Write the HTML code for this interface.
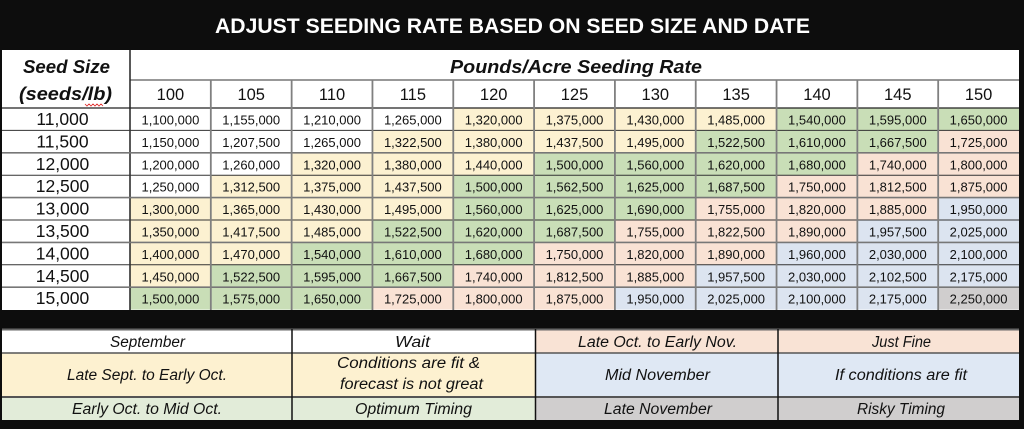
<!DOCTYPE html>
<html><head><meta charset="utf-8"><style>
html,body{margin:0;padding:0;background:#0d0d0d;}
svg{display:block;}
text{font-family:"Liberation Sans",Arial,sans-serif;fill:#111;}
.t{font-weight:bold;font-size:21px;fill:#fff;}
.h{font-weight:bold;font-style:italic;font-size:18px;}
.n{font-size:16.5px;}
.s{font-size:17.5px;}
.d{font-size:13px;}
.l{font-style:italic;font-size:15.5px;}
</style></head><body>
<svg width="1024" height="429" viewBox="0 0 1024 429" xmlns="http://www.w3.org/2000/svg">
<rect x="0" y="0" width="1024" height="429" fill="#0d0d0d"/>
<text class="t" x="512.5" y="33" text-anchor="middle" textLength="595" lengthAdjust="spacingAndGlyphs">ADJUST SEEDING RATE BASED ON SEED SIZE AND DATE</text>
<rect x="2" y="50" width="1017" height="260" fill="#fff"/>
<g id="cells"></g>
<text class="h" x="66.5" y="73" text-anchor="middle" textLength="87" lengthAdjust="spacingAndGlyphs">Seed Size</text>
<text class="h" x="65.5" y="100" text-anchor="middle" textLength="93" lengthAdjust="spacingAndGlyphs">(seeds/lb)</text>
<polyline points="85,104 87,106 89,104 91,106 93,104 95,106 97,104 99,106 101,104 103,106" fill="none" stroke="#d22" stroke-width="0.8"/>
<text class="h" x="576" y="73" text-anchor="middle" textLength="252" lengthAdjust="spacingAndGlyphs">Pounds/Acre Seeding Rate</text>
<line x1="130" y1="80" x2="1019" y2="80" stroke="#777" stroke-width="1.5"/>
<line x1="2" y1="108" x2="1019" y2="108" stroke="#222" stroke-width="1.2"/>
<line x1="130" y1="50" x2="130" y2="310" stroke="#222" stroke-width="1.5"/>
<g id="rest"></g>
<rect x="2" y="329" width="1017" height="91" fill="#fff"/>
<rect x="535.5" y="329" width="483.5" height="24" fill="#f9e3d5"/>
<rect x="2" y="353" width="533.5" height="44" fill="#fdf1d0"/>
<rect x="535.5" y="353" width="483.5" height="44" fill="#dfe8f4"/>
<rect x="2" y="397" width="533.5" height="23" fill="#e2ecd9"/>
<rect x="535.5" y="397" width="483.5" height="23" fill="#d0cece"/>
<line x1="2" y1="329.5" x2="1019" y2="329.5" stroke="#666" stroke-width="2"/>
<line x1="2" y1="353" x2="1019" y2="353" stroke="#555" stroke-width="1.5"/>
<line x1="2" y1="397" x2="1019" y2="397" stroke="#555" stroke-width="2"/>
<line x1="292" y1="329" x2="292" y2="420" stroke="#111" stroke-width="1.5"/>
<line x1="535.5" y1="329" x2="535.5" y2="420" stroke="#111" stroke-width="1.5"/>
<line x1="778" y1="329" x2="778" y2="420" stroke="#111" stroke-width="1.5"/>
<text class="l" x="147.5" y="347" text-anchor="middle" textLength="75" lengthAdjust="spacingAndGlyphs">September</text>
<text class="l" x="412.5" y="347" text-anchor="middle" textLength="35" lengthAdjust="spacingAndGlyphs">Wait</text>
<text class="l" x="657.5" y="347" text-anchor="middle" textLength="159" lengthAdjust="spacingAndGlyphs">Late Oct. to Early Nov.</text>
<text class="l" x="901.5" y="347" text-anchor="middle" textLength="59" lengthAdjust="spacingAndGlyphs">Just Fine</text>
<text class="l" x="147" y="380" text-anchor="middle" textLength="160" lengthAdjust="spacingAndGlyphs">Late Sept. to Early Oct.</text>
<text class="l" x="408.5" y="368" text-anchor="middle" textLength="143" lengthAdjust="spacingAndGlyphs">Conditions are fit &amp;</text>
<text class="l" x="411.5" y="389" text-anchor="middle" textLength="143" lengthAdjust="spacingAndGlyphs">forecast is not great</text>
<text class="l" x="657.5" y="380" text-anchor="middle" textLength="105" lengthAdjust="spacingAndGlyphs">Mid November</text>
<text class="l" x="901" y="380" text-anchor="middle" textLength="132" lengthAdjust="spacingAndGlyphs">If conditions are fit</text>
<text class="l" x="147" y="414" text-anchor="middle" textLength="150" lengthAdjust="spacingAndGlyphs">Early Oct. to Mid Oct.</text>
<text class="l" x="413.5" y="414" text-anchor="middle" textLength="117" lengthAdjust="spacingAndGlyphs">Optimum Timing</text>
<text class="l" x="658" y="414" text-anchor="middle" textLength="108" lengthAdjust="spacingAndGlyphs">Late November</text>
<text class="l" x="901" y="414" text-anchor="middle" textLength="88" lengthAdjust="spacingAndGlyphs">Risky Timing</text>
</svg>
<script>
(function(){
var NS="http://www.w3.org/2000/svg";
var rates=[100,105,110,115,120,125,130,135,140,145,150];
var sizes=[11000,11500,12000,12500,13000,13500,14000,14500,15000];
var vals=[
["1,100,000","1,155,000","1,210,000","1,265,000","1,320,000","1,375,000","1,430,000","1,485,000","1,540,000","1,595,000","1,650,000"],
["1,150,000","1,207,500","1,265,000","1,322,500","1,380,000","1,437,500","1,495,000","1,522,500","1,610,000","1,667,500","1,725,000"],
["1,200,000","1,260,000","1,320,000","1,380,000","1,440,000","1,500,000","1,560,000","1,620,000","1,680,000","1,740,000","1,800,000"],
["1,250,000","1,312,500","1,375,000","1,437,500","1,500,000","1,562,500","1,625,000","1,687,500","1,750,000","1,812,500","1,875,000"],
["1,300,000","1,365,000","1,430,000","1,495,000","1,560,000","1,625,000","1,690,000","1,755,000","1,820,000","1,885,000","1,950,000"],
["1,350,000","1,417,500","1,485,000","1,522,500","1,620,000","1,687,500","1,755,000","1,822,500","1,890,000","1,957,500","2,025,000"],
["1,400,000","1,470,000","1,540,000","1,610,000","1,680,000","1,750,000","1,820,000","1,890,000","1,960,000","2,030,000","2,100,000"],
["1,450,000","1,522,500","1,595,000","1,667,500","1,740,000","1,812,500","1,885,000","1,957,500","2,030,000","2,102,500","2,175,000"],
["1,500,000","1,575,000","1,650,000","1,725,000","1,800,000","1,875,000","1,950,000","2,025,000","2,100,000","2,175,000","2,250,000"]];
function col(v){var n=parseInt(v.replace(/,/g,''));
 if(n<1300000)return "#ffffff"; if(n<1500000)return "#fcf1d1"; if(n<1700000)return "#c9deb7";
 if(n<1900000)return "#f9e2d4"; if(n<2250000)return "#dce4f0"; return "#d0cece";}
var x0=130,w=(1019-130)/11,y0=108,h=22.4;
var g=document.getElementById("cells"),r=document.getElementById("rest");
function el(t,a,p,txt){var e=document.createElementNS(NS,t);for(var k in a)e.setAttribute(k,a[k]);if(txt!=null)e.textContent=txt;p.appendChild(e);return e;}
for(var i=0;i<9;i++){for(var j=0;j<11;j++){
 el("rect",{x:x0+j*w,y:y0+i*h,width:w,height:h,fill:col(vals[i][j])},g);}}
for(var j=0;j<11;j++){el("text",{"class":"n",x:x0+(j+0.5)*w,y:100,"text-anchor":"middle"},r,String(rates[j]));}
for(var i=0;i<9;i++){
 var by=y0+i*h+16.5;
 el("text",{"class":"s",x:62.5,y:by+0.5,"text-anchor":"middle"},r,sizes[i].toLocaleString("en-US"));
 for(var j=0;j<11;j++){el("text",{"class":"d",x:x0+(j+0.5)*w,y:by,"text-anchor":"middle"},r,vals[i][j]);}
}
for(var i=1;i<9;i++){var yy=y0+i*h;
 el("line",{x1:2,y1:yy,x2:1019,y2:yy,stroke:(i%2==0?"#777":"#333"),"stroke-width":(i%2==0?1.6:1)},r);}
for(var j=1;j<11;j++){var xx=x0+j*w;
 el("line",{x1:xx,y1:80,x2:xx,y2:310,stroke:"#808080","stroke-width":1.8},r);}
})();
</script>
</body></html>
